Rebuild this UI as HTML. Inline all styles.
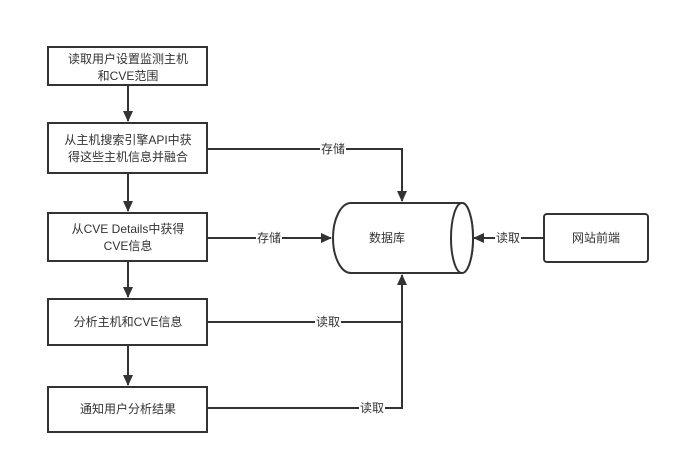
<!DOCTYPE html>
<html><head><meta charset="utf-8"><style>
body{margin:0;background:#fff}
svg text{font-family:"Liberation Sans","Noto Sans CJK SC",sans-serif;font-size:12px;fill:#333;text-anchor:middle;dominant-baseline:central}
</style></head><body>
<svg width="680" height="462" viewBox="0 0 680 462" xmlns="http://www.w3.org/2000/svg">
<defs><marker id="a" markerWidth="11" markerHeight="10" refX="10" refY="5" orient="auto" markerUnits="userSpaceOnUse"><path d="M0,0 L11,5 L0,10 z" fill="#333"/></marker></defs>
<g stroke="#333" stroke-width="2" fill="#fff">
<rect x="48" y="47" width="159" height="38"/>
<rect x="48" y="123" width="159" height="50"/>
<rect x="48" y="213" width="159" height="48"/>
<rect x="48" y="299" width="159" height="46"/>
<rect x="48" y="387" width="159" height="45"/>
<rect x="544" y="214" width="104" height="48" rx="3"/>
<path d="M351,203 L462,203 A11,35 0 0 1 462,273 L351,273 A18,35 0 0 1 351,203 Z"/>
<ellipse cx="462" cy="238" rx="11" ry="35"/>
</g>
<g stroke="#333" stroke-width="2" fill="none">
<line x1="128" y1="85" x2="128" y2="121" marker-end="url(#a)"/>
<line x1="128" y1="173" x2="128" y2="211" marker-end="url(#a)"/>
<line x1="128" y1="261" x2="128" y2="297" marker-end="url(#a)"/>
<line x1="128" y1="345" x2="128" y2="385" marker-end="url(#a)"/>
<path d="M207,149 L402,149 L402,201" marker-end="url(#a)"/>
<line x1="207" y1="238" x2="331" y2="238" marker-end="url(#a)"/>
<line x1="207" y1="322" x2="402" y2="322"/>
<path d="M207,408 L402,408 L402,275" marker-end="url(#a)"/>
<line x1="544" y1="238" x2="474" y2="238" marker-end="url(#a)"/>
</g>
<g fill="#fff">
<rect x="320" y="141" width="26" height="16"/>
<rect x="256" y="230" width="26" height="16"/>
<rect x="315" y="314" width="26" height="16"/>
<rect x="359" y="400" width="26" height="16"/>
<rect x="495" y="230" width="26" height="16"/>
</g>
<text x="333" y="149">存储</text>
<text x="269" y="238">存储</text>
<text x="328" y="322">读取</text>
<text x="372" y="408">读取</text>
<text x="508" y="238">读取</text>
<text x="128" y="59">读取用户设置监测主机</text>
<text x="128" y="76">和CVE范围</text>
<text x="128" y="140">从主机搜索引擎API中获</text>
<text x="128" y="157">得这些主机信息并融合</text>
<text x="128" y="229">从CVE Details中获得</text>
<text x="128" y="246">CVE信息</text>
<text x="128" y="322">分析主机和CVE信息</text>
<text x="128" y="409">通知用户分析结果</text>
<text x="387" y="238">数据库</text>
<text x="596" y="238">网站前端</text>
</svg>
</body></html>
